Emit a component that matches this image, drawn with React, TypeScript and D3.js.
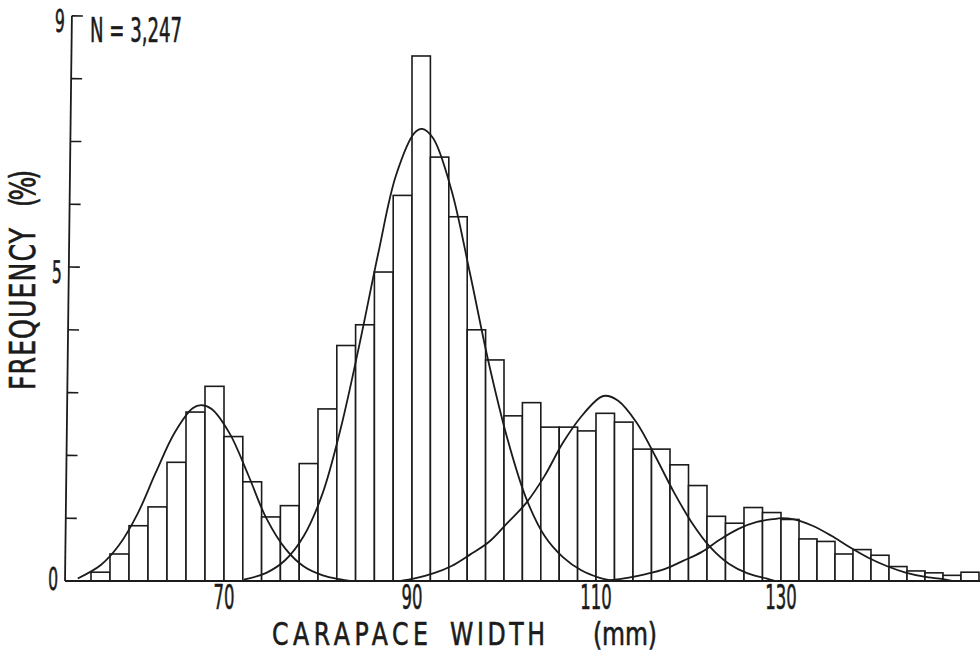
import React from 'react';
import * as d3 from 'd3';

// width classes (lower bound, mm), 2 mm wide
const binLower = [
  56, 58, 60, 62, 64, 66, 68, 70, 72, 74, 76, 78,
  80, 82, 84, 86, 88, 90, 92, 94, 96, 98, 100, 102,
  104, 106, 108, 110, 112, 114, 116, 118, 120, 122, 124, 126,
  128, 130, 132, 134, 136, 138, 140, 142, 144, 146, 148, 150,
];
const binWidth = 2;

// frequency (%) per class
const freq = [
  0.14, 0.43, 0.88, 1.18, 1.89, 2.69, 3.10, 2.30, 1.58, 1.02, 1.20, 1.87,
  2.74, 3.75, 4.08, 4.92, 6.14, 8.36, 6.75, 5.80, 4.00, 3.52, 2.63, 2.84,
  2.45, 2.45, 2.39, 2.67, 2.53, 2.10, 2.10, 1.85, 1.52, 1.03, 0.92, 1.17,
  1.09, 0.98, 0.67, 0.63, 0.43, 0.50, 0.41, 0.23, 0.16, 0.13, 0.09, 0.14,
];

// fitted components [mm, %]
const comp1 = [
  [54.6, 0.04], [57.0, 0.25], [58.9, 0.56], [60.9, 1.07], [62.8, 1.72], [64.8, 2.36],
  [66.7, 2.75], [67.6, 2.8], [68.7, 2.74], [70.6, 2.35], [72.6, 1.68], [74.5, 1.0],
  [76.5, 0.52], [78.5, 0.23], [80.5, 0.09], [82.4, 0.025], [83.4, 0],
];
const comp2 = [
  [72.1, 0.02], [74.5, 0.13], [76.5, 0.33], [78.5, 0.72], [80.5, 1.4], [82.4, 2.42],
  [84.4, 3.76], [86.4, 5.21], [88.3, 6.46], [90.3, 7.14], [91.1, 7.2], [92.3, 7.05],
  [94.3, 6.22], [96.3, 4.9], [98.3, 3.5], [100.4, 2.25], [102.4, 1.32], [104.4, 0.72],
  [106.4, 0.38], [108.4, 0.17], [110.4, 0.05], [111.9, 0],
];
const comp3 = [
  [88.8, 0], [90.3, 0.04], [92.3, 0.12], [94.3, 0.24], [96.3, 0.42], [98.35, 0.62],
  [100.4, 0.93], [102.4, 1.24], [104.4, 1.67], [106.4, 2.2], [108.4, 2.62], [110.4, 2.92],
  [111.0, 2.95], [112.4, 2.87], [114.4, 2.52], [116.4, 1.99], [118.4, 1.42], [120.4, 0.92],
  [122.4, 0.53], [124.4, 0.27], [126.4, 0.12], [128.4, 0.04], [129.4, 0],
];
const comp4 = [
  [111.4, 0.01], [113.4, 0.05], [115.4, 0.11], [117.4, 0.19], [119.4, 0.32], [121.4, 0.46],
  [123.4, 0.66], [125.4, 0.83], [127.4, 0.94], [129.4, 0.99], [130.0, 1.0], [131.45, 0.98],
  [133.5, 0.88], [135.6, 0.72], [137.6, 0.54], [139.7, 0.37], [141.8, 0.235], [143.85, 0.135],
  [145.9, 0.07], [148.0, 0.03], [149.0, 0],
];
const components = [comp1, comp2, comp3, comp4];

const xTicks = [70, 90, 110, 130];
const yMinor = [1, 2, 3, 4, 5, 6, 7, 8, 9];
const yLabels = [0, 5, 9];

const FONT = "'Liberation Sans Narrow','DejaVu Sans Condensed','Liberation Sans',sans-serif";
const INK = '#1b1b1b';

// the printed scale is a little compressed towards the right, so the
// x scale is piecewise linear through the labelled class boundaries
const x = d3.scaleLinear()
  .domain([56, 70, 90, 110, 130, 152])
  .range([91, 224, 412, 596, 781, 979]);
const y = d3.scaleLinear().domain([0, 9]).range([581, 15.8]);

const line = d3.line<number[]>()
  .x(d => x(d[0]))
  .y(d => y(d[1]))
  .curve(d3.curveCatmullRom.alpha(0.5));

// narrow, squeezed lettering like the original typeset figure
const Label = ({ tx, ty, w, size, anchor = 'start', spread = false, rot = 0, sx = 0.8, children }: any) => (
  <text
    transform={`translate(${tx},${ty}) rotate(${rot}) scale(${sx},1)`}
    fontFamily={FONT}
    fontSize={size}
    fill={INK}
    stroke={INK}
    strokeWidth={0.6}
    textAnchor={anchor}
    textLength={w / sx}
    lengthAdjust={spread ? 'spacing' : 'spacingAndGlyphs'}
  >
    {children}
  </text>
);

export default function App() {
  const axisX = 65;
  return (
    <svg width={980} height={654} style={{ position: 'absolute', left: 0, top: 0, background: '#fff' }}>
      <rect width={980} height={654} fill="#fff" />

      {/* bars */}
      <g fill="#fff" stroke={INK} strokeWidth={1.6}>
        {binLower.map((lo, i) => (
          <rect key={i} x={x(lo)} y={y(freq[i])} width={x(lo + binWidth) - x(lo)} height={y(0) - y(freq[i])} />
        ))}
      </g>

      {/* fitted normal components */}
      <g fill="none" stroke={INK} strokeWidth={1.8}>
        {components.map((c, i) => <path key={i} d={line(c) || ''} />)}
      </g>

      {/* baseline */}
      <line x1={axisX} x2={980} y1={y(0)} y2={y(0)} stroke={INK} strokeWidth={2} />

      {/* y axis, slightly skewed like the scan */}
      <g transform={`rotate(0.7, ${axisX}, ${y(0)})`}>
        <line x1={axisX} x2={axisX} y1={y(9)} y2={y(0)} stroke={INK} strokeWidth={1.8} />
        {yMinor.map(v => (
          <line key={v} x1={axisX} x2={axisX + 11} y1={y(v)} y2={y(v)} stroke={INK} strokeWidth={1.6} />
        ))}
        {yLabels.map(v => (
          <Label key={v} tx={axisX - 7} ty={Math.min(y(v) + 16, y(0) + 9)} w={10} size={31} anchor="end">
            {v}
          </Label>
        ))}
      </g>

      {/* x tick labels */}
      {xTicks.map(v => (
        <Label key={v} tx={x(v)} ty={609} w={String(v).length * 10.5} size={34} anchor="middle">
          {v}
        </Label>
      ))}

      {/* axis titles */}
      <Label tx={272} ty={645} w={156} size={32} sx={0.82} spread>CARAPACE</Label>
      <Label tx={450} ty={645} w={95} size={32} sx={0.82} spread>WIDTH</Label>
      <Label tx={593} ty={645} w={64} size={32} sx={0.82} spread>(mm)</Label>

      <Label tx={35} ty={390} w={162} size={35} rot={-90} sx={0.8} spread>FREQUENCY</Label>
      <Label tx={35} ty={207} w={37} size={35} rot={-90} sx={0.8} spread>(%)</Label>

      <Label tx={90} ty={42} w={92} size={33}>N = 3,247</Label>
    </svg>
  );
}
